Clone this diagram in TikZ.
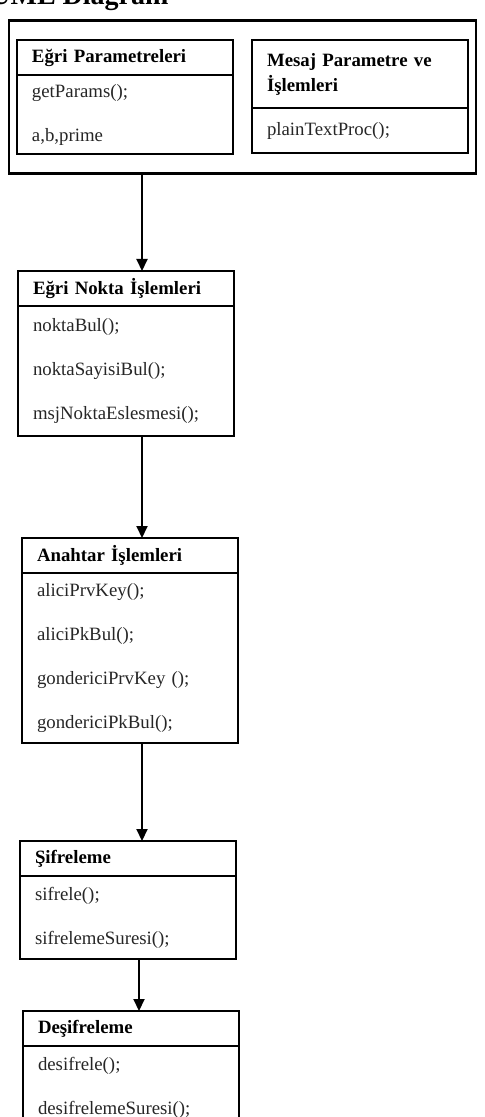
\documentclass[tikz,border=0pt]{standalone}
\usepackage{fontspec}
\setmainfont{Liberation Serif}
\usetikzlibrary{arrows.meta,positioning,fit}

\begin{document}
\begin{tikzpicture}[font=\fontsize{9.4}{11}\selectfont,
 hdr/.style={draw, line width=1pt, outer sep=0pt, align=left, text width=93pt, inner xsep=7.5pt, inner ysep=0pt, minimum height=17.5pt, font=\fontsize{9.4}{12.5}\selectfont\bfseries},
 body/.style={draw, line width=1pt, outer sep=0pt, align=left, text width=93pt, inner xsep=7.5pt, inner ysep=0pt, font=\fontsize{9.4}{22}\selectfont, text=black!85},
 arr/.style={-{Triangle[length=6pt,width=5.5pt]}, line width=1pt}]

 \useasboundingbox (0,0) rectangle (242.5pt,-558.5pt);
 \node[anchor=base west, inner sep=0pt, font=\fontsize{14}{16}\selectfont\bfseries] (title) at (-5pt,-2.5pt) {UML Diagram};

 % --- Parametreler ---
 \node[hdr, anchor=north west] (egri) at (8.5pt,-20pt) {Eğri Parametreleri};
 \node[body, below=0pt of egri, minimum height=39.5pt] (egriB) {getParams();\\a,b,prime};
 \node[hdr, right=9.5pt of egri.north east, anchor=north west, minimum height=34pt] (mesaj) {Mesaj Parametre ve\\İşlemleri};
 \node[body, below=0pt of mesaj, minimum height=22.5pt] (mesajB) {plainTextProc();};
 \node[draw, line width=1.4pt, outer sep=0pt, fit=(egri)(mesaj)(egriB)(mesajB), inner xsep=4pt, inner ysep=9.75pt] (grp) {};

 % --- Islem sinifleri ---
 \node[hdr, below=58.5pt of egriB.south west, anchor=north west, xshift=0.5pt] (nokta) {Eğri Nokta İşlemleri};
 \node[body, below=0pt of nokta, minimum height=65pt] (noktaB) {noktaBul();\\noktaSayisiBul();\\msjNoktaEslesmesi();};
 \node[hdr, below=51pt of noktaB.south west, anchor=north west, xshift=2pt] (anahtar) {Anahtar İşlemleri};
 \node[body, below=0pt of anahtar, minimum height=85pt] (anahtarB) {aliciPrvKey();\\aliciPkBul();\\gondericiPrvKey ();\\gondericiPkBul();};
 \node[hdr, below=49pt of anahtarB.south west, anchor=north west, xshift=-1pt] (sifre) {Şifreleme};
 \node[body, below=0pt of sifre, minimum height=41.5pt] (sifreB) {sifrele();\\sifrelemeSuresi();};
 \node[hdr, below=26pt of sifreB.south west, anchor=north west, xshift=1.5pt] (desifre) {Deşifreleme};
 \node[body, below=0pt of desifre, minimum height=41.5pt] (desifreB) {desifrele();\\desifrelemeSuresi();};

 % --- Oklar ---
 \coordinate (ax) at (71pt,0);
 \coordinate (ax2) at (69.5pt,0);
 \draw[arr] (grp.south -| ax) -- (nokta.north -| ax);
 \draw[arr] (noktaB.south -| ax) -- (anahtar.north -| ax);
 \draw[arr] (anahtarB.south -| ax) -- (sifre.north -| ax);
 \draw[arr] (sifreB.south -| ax2) -- (desifre.north -| ax2);
\end{tikzpicture}
\end{document}
